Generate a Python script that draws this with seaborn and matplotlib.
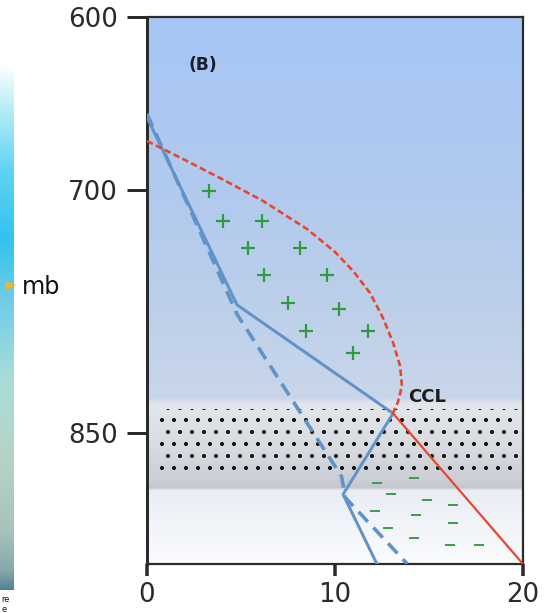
import numpy as np
import matplotlib
matplotlib.use("Agg")
import matplotlib.pyplot as plt
import seaborn as sns
from matplotlib.colors import to_rgb
from matplotlib.patches import Polygon

# ---------------- data ----------------
y_ticks = [600, 700, 850]
y_ticklabels = ["600", "700", "850"]
x_ticks = [0, 10, 20]
x_ticklabels = ["0", "10", "20"]
p_top, p_bottom = 600, 931

env_x = [0.0, 4.79, 13.09, 10.43, 12.23]
env_p = [658, 771, 838, 888, 931]

dew_x = [0.0, 4.8, 10.35, 10.55, 13.85]
dew_p = [656, 777, 877, 890, 931]

parcel_x = [0.0, 2.02, 3.88, 6.17, 8.51, 10.0, 10.96, 11.86, 12.55, 13.09,
            13.46, 13.56, 13.35, 13.09]
parcel_p = [671.7, 682.7, 693.1, 706.8, 724.1, 738.3, 750.0, 763.6, 779.0, 794.4,
            808.6, 821.0, 830.9, 837.7]

moist_x = [13.09, 20.0]
moist_p = [838, 931]

plus_x = [3.30, 4.04, 6.12, 5.37, 8.14, 6.22, 9.57, 7.50, 10.21, 8.46, 11.76, 10.96]
plus_p = [700.5, 719, 719, 736, 736, 752.5, 752.5, 770, 773.5, 787, 787, 800.5]

minus_x = [12.23, 14.20, 12.98, 14.89, 16.28, 12.13, 14.31, 16.28, 12.82, 14.20, 16.12, 17.66]
minus_p = [881, 878, 888, 891.5, 894.5, 898, 901, 905.5, 908.5, 915, 919, 919]

dots_top, dots_base = 835, 873
dots_x0, dots_x1 = 0.6, 19.8

label_b = (2.98, 628, "(B)")
label_ccl = (14.9, 828, "CCL")

# ---------------- style ----------------
sns.set_style("white")
plt.rcParams["font.family"] = ["DejaVu Sans"]
plt.rcParams["hatch.linewidth"] = 1.7

W, H, DPI = 546, 613, 72
fig = plt.figure(figsize=(W / DPI, H / DPI), dpi=DPI)

ax_l, ax_r, ax_t, ax_b = 147, 523, 17, 564
pos = [ax_l / W, 1 - ax_b / H, (ax_r - ax_l) / W, (ax_b - ax_t) / H]


def fwd(p):
    p = np.asarray(p, dtype=float)
    return np.where(p <= 700, (p - 600) * 1.73, 173 + (p - 700) * 1.62)


def inv(v):
    v = np.asarray(v, dtype=float)
    return np.where(v <= 173, 600 + v / 1.73, 700 + (v - 173) / 1.62)


def gradient(stops, n0, n1):
    rows = np.arange(n0, n1)
    ys = [s[0] for s in stops]
    cols = np.array([to_rgb(s[1]) for s in stops])
    img = np.stack([np.interp(rows, ys, cols[:, k]) for k in range(3)], axis=-1)
    return img[:, None, :]


# background gradient (pixel rows of the plot area)
bg_stops = [(17, "#a6c6f6"), (200, "#b2caee"), (300, "#bccfea"), (398, "#c9d6e9"),
            (403, "#e3e7ec"), (440, "#dadee3"), (480, "#cbcfd5"), (487, "#c3c8ce"),
            (490, "#e9edf3"), (564, "#fbfcfe")]
bg = fig.add_axes(pos, zorder=0)
bg.imshow(gradient(bg_stops, ax_t, ax_b), aspect="auto", extent=[0, 1, 0, 1],
          interpolation="bilinear")
bg.axis("off")

ax = fig.add_axes(pos, zorder=1)
ax.patch.set_alpha(0)
ax.set_yscale("function", functions=(fwd, inv))

# cloud dots (hatch texture)
ax.fill_between([dots_x0, dots_x1], dots_top, dots_base, facecolor="none",
                edgecolor="#151515", linewidth=0, hatch=".", zorder=1)

blue = "#5f93c9"
red = "#e8452f"
green = "#2f9b3c"

sns.lineplot(x=env_x, y=env_p, sort=False, estimator=None, ax=ax, color=blue,
             linewidth=3, zorder=4)
sns.lineplot(x=dew_x, y=dew_p, sort=False, estimator=None, ax=ax, color=blue,
             linewidth=3.6, linestyle=(0, (3.8, 2.2)), zorder=3)
sns.lineplot(x=parcel_x, y=parcel_p, sort=False, estimator=None, ax=ax, color=red,
             linewidth=2.6, linestyle=(0, (2.5, 1.3)), zorder=5)
sns.lineplot(x=moist_x, y=moist_p, sort=False, estimator=None, ax=ax, color=red,
             linewidth=2.2, zorder=5)

sns.scatterplot(x=plus_x, y=plus_p, ax=ax, marker="+", s=170, color=green,
                linewidth=2.2, zorder=6)
sns.scatterplot(x=minus_x, y=minus_p, ax=ax, marker="_", s=90, color="#3e9d4e",
                linewidth=2.0, zorder=6)

ax.text(label_b[0], label_b[1], label_b[2], fontsize=17, fontweight="bold",
        color="#1c1c2a", ha="center", va="center")
ax.text(label_ccl[0], label_ccl[1], label_ccl[2], fontsize=18, fontweight="bold",
        color="#1c1c1c", ha="center", va="center")

ax.set_xlim(0, 20)
ax.set_ylim(p_bottom, p_top)
ax.set_xticks(x_ticks)
ax.set_xticklabels(x_ticklabels)
ax.set_yticks(y_ticks)
ax.set_yticklabels(y_ticklabels)
ax.minorticks_off()
ax.tick_params(axis="y", length=20, width=3, pad=9, labelsize=26,
               colors="#2a2a2a", left=True)
ax.tick_params(axis="x", length=12, width=3.5, pad=6, labelsize=26,
               colors="#2a2a2a", bottom=True)
ax.set_xlabel("")
ax.set_ylabel("")
for side, sp in ax.spines.items():
    sp.set_visible(True)
    sp.set_color("#2b2b2b")
    sp.set_linewidth(2.2)
ax.spines["left"].set_linewidth(3)

# fragment of a neighbouring panel on the far left
strip_stops = [(65, "#ffffff"), (110, "#b5ecf7"), (170, "#5fd3f2"), (240, "#33c1ef"),
               (300, "#6fcde6"), (380, "#a9ddd9"), (460, "#b6d3c6"), (530, "#a7c3bb"),
               (570, "#85a9ad"), (590, "#4f7f95")]
sax = fig.add_axes([0, 1 - 590 / H, 14 / W, (590 - 65) / H], zorder=0)
sax.imshow(gradient(strip_stops, 65, 590), aspect="auto", extent=[0, 1, 0, 1],
           interpolation="bilinear")
sax.axis("off")
fig.add_artist(Polygon([[6 / W, 1 - 282 / H], [15 / W, 1 - 285 / H], [6 / W, 1 - 290 / H]],
                       closed=True, transform=fig.transFigure, color="#f0b52a", zorder=2))
fig.text(22 / W, 1 - 287 / H, "mb", fontsize=24, color="#111111", ha="left", va="center")
fig.text(1 / W, 1 - 600 / H, "re", fontsize=8, color="#111111", ha="left", va="center")
fig.text(1 / W, 1 - 610 / H, "e", fontsize=8, color="#111111", ha="left", va="center")

fig.savefig("out.png", dpi=DPI)
